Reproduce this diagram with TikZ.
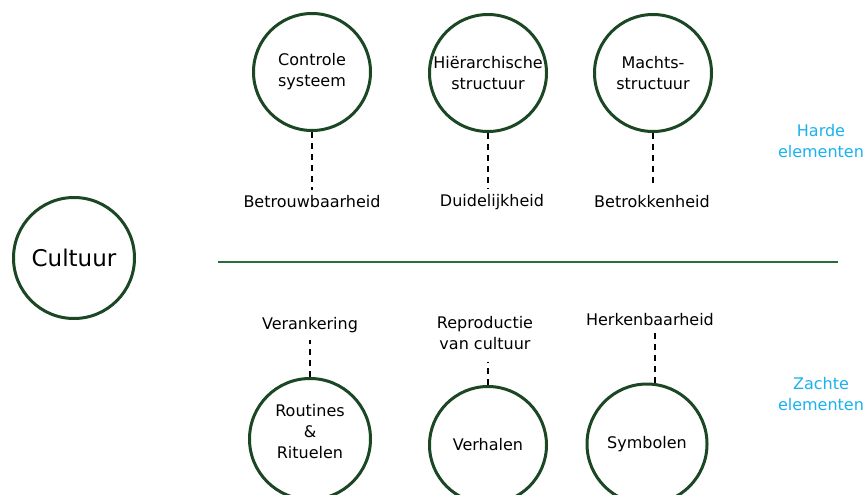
\documentclass[tikz,border=0pt]{standalone}
\usepackage{fontspec}
\setmainfont{DejaVu Sans}
\definecolor{ringgreen}{HTML}{1C4724}
\definecolor{linegreen}{HTML}{2E6B3C}
\definecolor{softblue}{HTML}{1AB2EE}
\begin{document}
\begin{tikzpicture}[x=1pt,y=-1pt,
  ring/.style={circle,draw=ringgreen,line width=3pt,inner sep=0pt,minimum size=117pt,align=center,font=\fontsize{16}{21}\selectfont},
  lbl/.style={align=center,inner sep=2pt,font=\fontsize{16}{21}\selectfont},
  side/.style={align=center,inner sep=0pt,text=softblue,font=\fontsize{16}{21}\selectfont},
  dashline/.style={draw=black,line width=1.1pt,dash pattern=on 6pt off 5pt}]
\useasboundingbox (0,0) rectangle (867,495);
\fill[white] (0,0) rectangle (867,495);
% main circle
\node[ring,minimum size=121pt,font=\fontsize{23}{28}\selectfont] (cult) at (74,258) {Cultuur};
% top circles
\node[ring] (c1) at (312,72) {Controle\\systeem};
\node[ring] (c2) at (488,73) {Hi\"erarchische\\structuur};
\node[ring] (c3) at (653,73) {Machts-\\structuur};
\node[lbl] (l1) at (312,202) {Betrouwbaarheid};
\node[lbl] (l2) at (492,202) {Duidelijkheid};
\node[lbl] (l3) at (652,202) {Betrokkenheid};
\draw[dashline,shorten >=4pt] (c1.south) -- (c1.south |- l1.north);
\draw[dashline,shorten >=3pt] (c2.south) -- (c2.south |- l2.north);
\draw[dashline,shorten >=6pt] (c3.south) -- (c3.south |- l3.north);
% divider
\coordinate (h1) at (218,262);
\coordinate (h2) at (838,262);
\draw[linegreen,line width=2pt] (h1) -- (h2);
% bottom circles
\node[ring,minimum size=121pt] (b1) at (310,439) {};
\node[lbl] (b1t) at (310,432) {Routines\\\&\\Rituelen};
\node[ring] (b2) at (488,445) {Verhalen};
\node[ring,minimum size=120pt] (b3) at (647,444) {Symbolen};
\node[lbl] (m1) at (310,325) {Verankering};
\node[lbl] (m2) at (485,333) {Reproductie\\van cultuur};
\node[lbl] (m3) at (650,320) {Herkenbaarheid};
\draw[dashline,shorten >=5pt] (b1.north) -- (b1.north |- m1.south);
\draw[dashline,shorten >=10pt] (b2.north) -- (b2.north |- m2.south);
\draw[dashline,shorten >=5pt] ([xshift=8pt]b3.north) -- ([xshift=8pt]b3.north |- m3.south);
% side labels
\node[side] (s1) at (821,141) {Harde\\elementen};
\node[side] (s2) at (821,394) {Zachte\\elementen};
\end{tikzpicture}
\end{document}
